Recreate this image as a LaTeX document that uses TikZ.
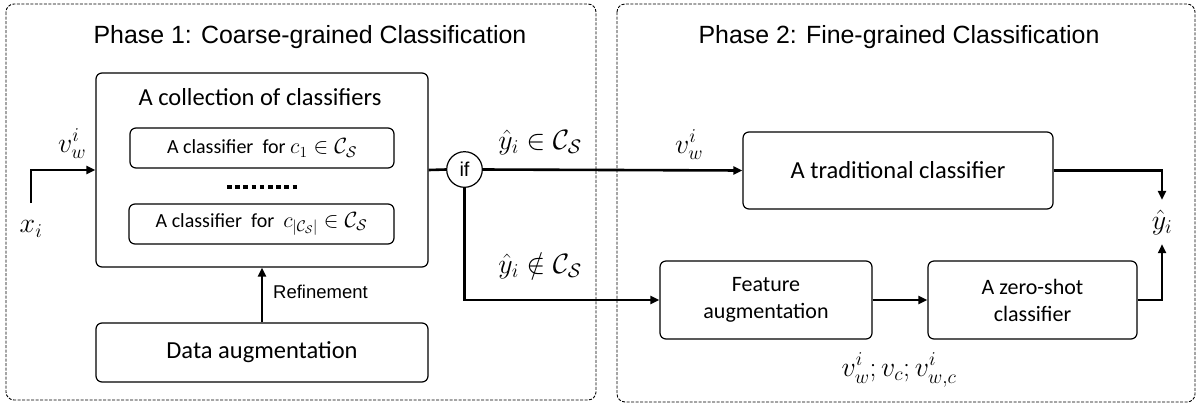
\RequirePackage{fix-cm}
\documentclass[tikz,border=0pt]{standalone}
\usepackage{amsmath, amssymb}
\usepackage{fontspec}
\newfontfamily\calibri{Carlito}
\newfontfamily\arial{Liberation Sans}
\usetikzlibrary{arrows.meta}

\begin{document}
\begin{tikzpicture}[x=1pt, y=-1pt,
    panel/.style={draw, line width=0.9pt, dash pattern=on 3pt off 1.5pt, rounded corners=8pt},
    block/.style={draw, line width=1.2pt, rounded corners=6pt, inner sep=0pt, align=center,
      font=\calibri\fontsize{24.5}{28}\selectfont},
    twoline/.style={block, font=\calibri\fontsize{22}{27}\selectfont},
    clfbox/.style={block, minimum width=264pt, minimum height=40pt, font=\calibri\fontsize{20}{24}\selectfont},
    title/.style={anchor=base, inner sep=0pt, font=\arial\fontsize{24.9}{30}\selectfont},
    lbl/.style={inner sep=0pt, font=\fontsize{28}{32}\selectfont},
    conn/.style={line width=2.6pt},
    flow/.style={conn, -{Triangle[length=9pt, width=8pt]}}]
  \useasboundingbox (0,0) rectangle (1198,405);

  % the two phases
  \draw[panel] (6,4) rectangle (596,400);
  \draw[panel] (617,4) rectangle (1195,402);
  \node[title] (ph1) at (310,43) {Phase 1: Coarse-grained Classification};
  \node[title] (ph2) at (899,43) {Phase 2: Fine-grained Classification};

  % phase 1
  \node[block, minimum width=332pt, minimum height=194pt] (coll) at (262,170) {};
  \node[inner sep=0pt, font=\calibri\fontsize{24.5}{28}\selectfont] (colltxt) at (260,97) {A collection of classifiers};
  \node[clfbox] (clf1) at (262,148) {A classifier \ for \fontsize{22}{24}\selectfont$c_1 \in \mathcal{C}_{\mathcal{S}}$};
  \node[clfbox, minimum width=265pt] (clf2) at (261.5,224) {A classifier \ for \ \fontsize{22}{24}\selectfont$c_{|\mathcal{C}_{\mathcal{S}}|} \in \mathcal{C}_{\mathcal{S}}$};
  \draw[line width=4pt, dash pattern=on 4.5pt off 3.7pt] (227,187) -- (297,187);
  \node[block, minimum width=332pt, minimum height=59pt] (data) at (262,352.5) {Data augmentation};
  \node[draw, circle, line width=1.2pt, minimum size=35.6pt, inner sep=0pt,
    font=\arial\fontsize{20}{24}\selectfont] (if) at (464.5,169.5) {if};

  \node[lbl] (xi) at (31,229) {$x_i$};
  \node[lbl] (vin) at (72,144) {$v_w^i$};
  \coordinate (xstart) at (31,203);
  \draw[flow] (xstart) |- (coll.west);
  \draw[flow] (data.north) -- (coll.south);
  \node[anchor=west, inner sep=0pt, font=\arial\fontsize{18.5}{22}\selectfont] (refine) at (273,292) {Refinement};
  \draw[conn] (coll.east) -- (if.west);

  % phase 2
  \node[block, minimum width=310pt, minimum height=77pt] (trad) at (898,170.5) {A traditional classifier};
  \node[twoline, minimum width=212pt, minimum height=78pt] (feat) at (766,300) {Feature\\augmentation};
  \node[twoline, minimum width=209pt, minimum height=78pt] (zero) at (1032.5,300) {A zero-shot\\classifier};
  \node[lbl, minimum height=44pt] (yhat) at (1162,222) {$\hat{y}_i$};

  \draw[flow] (if.east) -- (trad.west);
  \draw[flow] (if.south) |- (feat.west);
  \draw[flow] (feat) -- (zero);
  \draw[flow] (trad.east) -| (yhat.north);
  \draw[flow] (zero.east) -| (yhat.south);

  \node[lbl] (seen) at (540,142) {$\hat{y}_i \in \mathcal{C}_{\mathcal{S}}$};
  \node[lbl] (unseen) at (540,266) {$\hat{y}_i \notin \mathcal{C}_{\mathcal{S}}$};
  \node[lbl] (vtrad) at (689,145) {$v_w^i$};
  \node[lbl] (vaug) at (899,370) {$v_w^i; v_c; v_{w,c}^i$};
\end{tikzpicture}
\end{document}
